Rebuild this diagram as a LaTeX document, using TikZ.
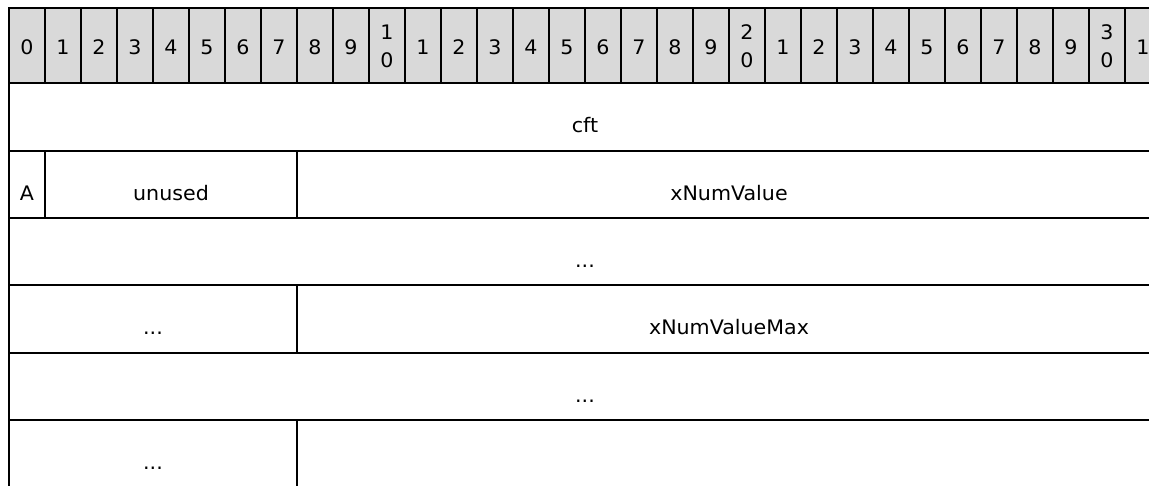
\documentclass[tikz,border=0pt]{standalone}
\usepackage{fontspec}
\setmainfont{DejaVu Sans}[FakeStretch=1.03]

\tikzset{
  hdr/.style={font=\fontsize{20}{28}\selectfont, align=center, anchor=south, inner sep=0pt, text depth=0pt},
  fld/.style={font=\fontsize{20}{24}\selectfont, anchor=base, inner sep=0pt},
  grid/.style={line width=2pt},
}

\begin{document}
\begin{tikzpicture}[x=1pt,y=-1pt]
    \useasboundingbox (0,0) rectangle (1149,485);
    \clip (0,0) rectangle (1149,485);

    % header row
    \fill[gray!30] (9,8) rectangle (1161,83);
    \foreach \i in {0,...,31} {
        \pgfmathtruncatemacro\tens{\i/10}
        \pgfmathtruncatemacro\ones{mod(\i,10)}
        \ifnum\i>9 \ifnum\ones=0
            \node[hdr] (h\i) at (27+36*\i,68) {\tens\\\ones};
        \else
            \node[hdr] (h\i) at (27+36*\i,55) {\ones};
        \fi \else
            \node[hdr] (h\i) at (27+36*\i,55) {\ones};
        \fi
    }

    % grid lines
    \foreach \k in {0,...,32}
        \draw[grid] (9+36*\k,8) -- (9+36*\k,83);
    \foreach \y in {8,83,151,218,285,353,420,487}
        \draw[grid] (8,\y) -- (1161,\y);
    \draw[grid] (9,8) -- (9,487);
    \draw[grid] (45,151) -- (45,218);
    \draw[grid] (297,151) -- (297,218);
    \draw[grid] (297,285) -- (297,353);
    \draw[grid] (297,420) -- (297,487);

    % fields
    \node[fld] (cft) at (585,132.5) {cft};
    \node[fld] (flagA) at (27,200) {A};
    \node[fld] (unused) at (171,200) {unused};
    \node[fld] (xnv) at (729,200) {xNumValue};
    \node[fld] (gap1) at (585,267) {...};
    \node[fld] (gap2) at (153,334.5) {...};
    \node[fld] (xnvmax) at (729,334.5) {xNumValueMax};
    \node[fld] (gap3) at (585,402) {...};
    \node[fld] (gap4) at (153,469) {...};
\end{tikzpicture}
\end{document}
